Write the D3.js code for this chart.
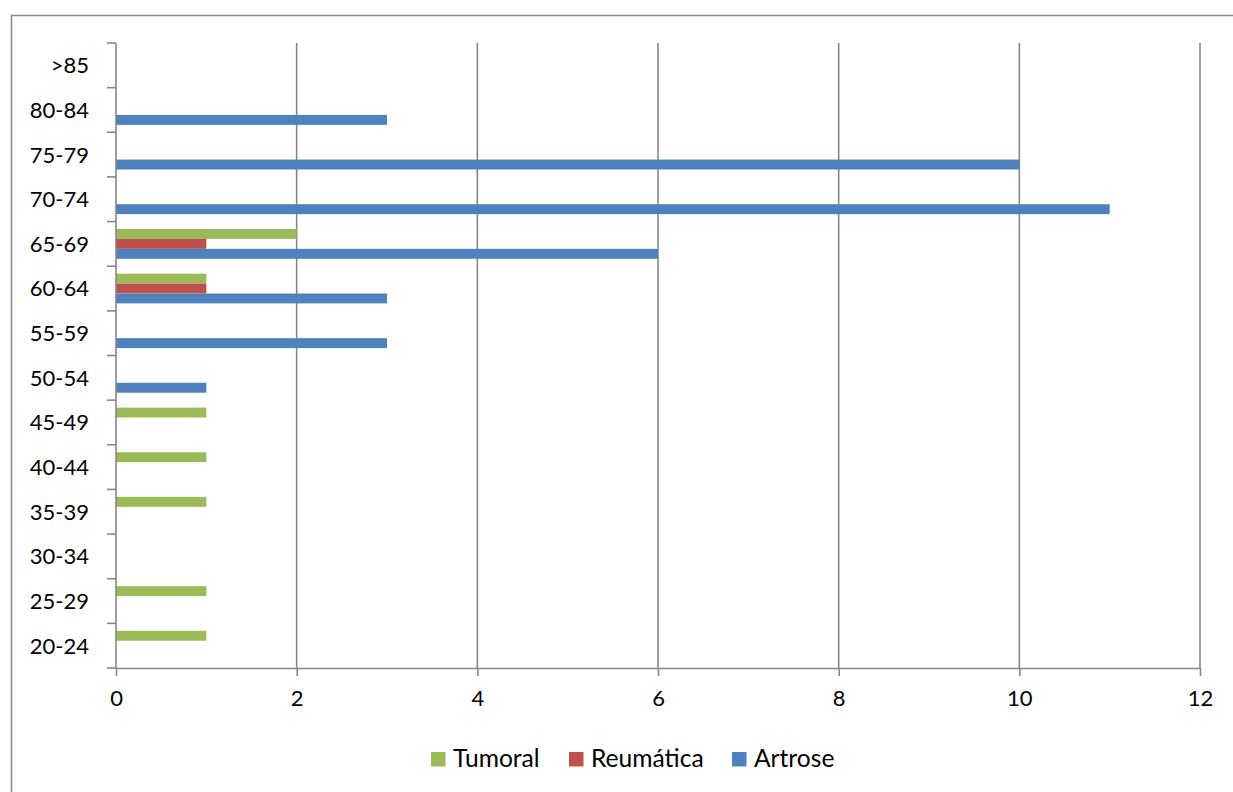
<!DOCTYPE html>
<html>
<head>
<meta charset="utf-8">
<script src="https://cdn.jsdelivr.net/npm/d3@7"></script>
<style>
  html, body { margin: 0; padding: 0; background: #fff; }
  svg { display: block; font-family: Lato, "Open Sans", sans-serif; }
</style>
</head>
<body>
<svg id="chart" width="1233" height="792"></svg>
<script>
// Age groups, bottom to top
const categories = ["20-24","25-29","30-34","35-39","40-44","45-49","50-54","55-59","60-64","65-69","70-74","75-79","80-84",">85"];
const seriesNames = ["Tumoral", "Reumática", "Artrose"];
const tumoral   = [1, 1, 0, 1, 1, 1, 0, 0, 1, 2, 0, 0, 0, 0];
const reumatica = [0, 0, 0, 0, 0, 0, 0, 0, 1, 1, 0, 0, 0, 0];
const artrose   = [0, 0, 0, 0, 0, 0, 1, 3, 3, 6, 11, 10, 3, 0];
const xTicks = [0, 2, 4, 6, 8, 10, 12];
const colors = ["#9BBB59", "#C0504D", "#4F81BD"];

const seriesValues = [tumoral, reumatica, artrose];

const svg = d3.select("#chart");
const gridColor = "#878787";

// outer chart frame
svg.append("rect")
  .attr("x", 11.5).attr("y", 15.5)
  .attr("width", 1240).attr("height", 800)
  .attr("fill", "none").attr("stroke", gridColor).attr("stroke-width", 1.5);

const plot = { left: 116, right: 1200, top: 43, bottom: 668 };

const x = d3.scaleLinear().domain([0, 12]).range([plot.left, plot.right]);
// categories run bottom to top
const y = d3.scaleBand().domain(categories).range([plot.bottom, plot.top]).paddingInner(0).paddingOuter(0);
// three bars per group, with a 150% gap between groups
const inner = d3.scaleBand().domain(seriesNames).range([0, y.bandwidth()]).paddingOuter(0.75).paddingInner(0);

// vertical gridlines
svg.append("g").selectAll("line")
  .data(xTicks.filter(d => d > 0))
  .join("line")
  .attr("x1", d => x(d)).attr("x2", d => x(d))
  .attr("y1", plot.top).attr("y2", plot.bottom)
  .attr("stroke", gridColor).attr("stroke-width", 1.6);

// bars
const bars = [];
categories.forEach((c, i) => {
  seriesNames.forEach((s, j) => {
    bars.push({ cat: c, series: s, value: seriesValues[j][i], color: colors[j] });
  });
});
svg.append("g").selectAll("rect")
  .data(bars.filter(d => d.value > 0))
  .join("rect")
  .attr("x", x(0))
  .attr("y", d => y(d.cat) + inner(d.series))
  .attr("width", d => x(d.value) - x(0))
  .attr("height", inner.bandwidth())
  .attr("fill", d => d.color);

// x axis
const xAxis = svg.append("g")
  .attr("transform", `translate(0,${plot.bottom})`)
  .call(d3.axisBottom(x).tickValues(xTicks).tickSize(8).tickSizeOuter(0).tickPadding(14));
xAxis.select(".domain").attr("stroke", gridColor).attr("stroke-width", 1.6);
xAxis.selectAll(".tick line").attr("stroke", gridColor).attr("stroke-width", 1.6);
xAxis.selectAll(".tick text")
  .attr("font-size", 22).attr("font-family", "Lato, sans-serif").attr("fill", "#000");

// y axis: ticks sit on the category boundaries
const yAxisG = svg.append("g");
yAxisG.append("line")
  .attr("x1", plot.left).attr("x2", plot.left)
  .attr("y1", plot.top).attr("y2", plot.bottom)
  .attr("stroke", gridColor).attr("stroke-width", 1.6);
const boundaries = categories.map(c => y(c)).concat([y(categories[0]) + y.bandwidth()]);
yAxisG.selectAll("line.tick")
  .data(boundaries)
  .join("line")
  .attr("class", "tick")
  .attr("x1", plot.left - 9).attr("x2", plot.left)
  .attr("y1", d => d).attr("y2", d => d)
  .attr("stroke", gridColor).attr("stroke-width", 1.6);
yAxisG.selectAll("text")
  .data(categories)
  .join("text")
  .attr("x", 89)
  .attr("y", d => y(d) + y.bandwidth() / 2)
  .attr("dy", "0.36em")
  .attr("text-anchor", "end")
  .attr("font-size", 22)
  .attr("fill", "#000")
  .text(d => d);

// legend
const legendItems = [
  { name: seriesNames[0], color: colors[0], x: 431 },
  { name: seriesNames[1], color: colors[1], x: 569 },
  { name: seriesNames[2], color: colors[2], x: 732 }
];
const legend = svg.append("g");
legendItems.forEach(d => {
  legend.append("rect")
    .attr("x", d.x).attr("y", 752)
    .attr("width", 14.5).attr("height", 14.5)
    .attr("fill", d.color);
  legend.append("text")
    .attr("x", d.x + 22).attr("y", 767)
    .attr("font-size", 24.6)
    .attr("fill", "#000")
    .text(d.name);
});
</script>
</body>
</html>
